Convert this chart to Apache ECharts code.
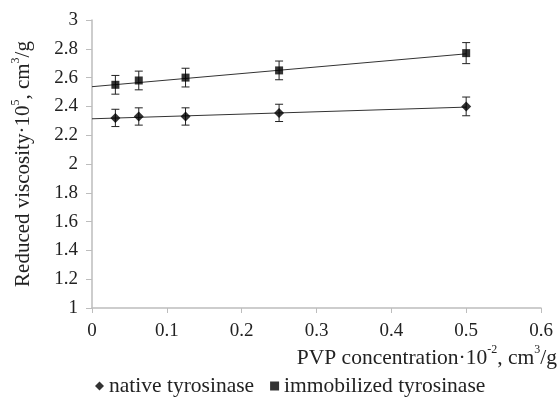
<!DOCTYPE html>
<html>
<head>
<meta charset="utf-8">
<script src="https://cdn.jsdelivr.net/npm/echarts@6/dist/echarts.min.js"></script>
<style>
    html, body { margin: 0; padding: 0; background: #fff; }
    #chart { width: 557px; height: 399px; }
</style>
</head>
<body>
<div id="chart"></div>
<script>
// PVP concentration (x) values
var concentrations = [0.03125, 0.0625, 0.125, 0.25, 0.5];
// reduced viscosity values
var nativeValues = [2.32, 2.33, 2.33, 2.355, 2.40];
var immobValues = [2.55, 2.58, 2.60, 2.65, 2.77];
// error bar half heights
var nativeErr = [0.06, 0.06, 0.06, 0.06, 0.065];
var immobErr = [0.065, 0.065, 0.065, 0.065, 0.073];
// trend lines, end points
var nativeTrend = [[0, 2.314], [0.5, 2.395]];
var immobTrend = [[0, 2.537], [0.5, 2.765]];
var seriesNames = ['native tyrosinase', 'immobilized tyrosinase'];

var font = '"Liberation Serif", "Times New Roman", serif';

var pairs = function(xs, ys) {
    var out = [];
    for (var i = 0; i < xs.length; i++) out.push([xs[i], ys[i]]);
    return out;
};

var errData = function(xs, ys, es) {
    var out = [];
    for (var i = 0; i < xs.length; i++) out.push([xs[i], ys[i] - es[i], ys[i] + es[i]]);
    return out;
};

// 误差线
var renderErr = function(params, api) {
    var lo = api.coord([api.value(0), api.value(1)]);
    var hi = api.coord([api.value(0), api.value(2)]);
    var w = 4;
    var st = { stroke: '#222', lineWidth: 1 };
    return {
        type: 'group',
        children: [
            { type: 'line', shape: { x1: lo[0], y1: lo[1], x2: hi[0], y2: hi[1] }, style: st },
            { type: 'line', shape: { x1: lo[0] - w, y1: lo[1], x2: lo[0] + w, y2: lo[1] }, style: st },
            { type: 'line', shape: { x1: hi[0] - w, y1: hi[1], x2: hi[0] + w, y2: hi[1] }, style: st }
        ]
    };
};

var tickFmt = function(v) { return String(Math.round(v * 10) / 10); };

var chart = echarts.init(document.getElementById('chart'));
chart.setOption({
    animation: false,
    textStyle: { fontFamily: font },
    grid: { left: 92, right: 16, top: 20, bottom: 91 },
    legend: {
        top: 375,
        left: 95,
        padding: 0,
        itemGap: 16,
        itemWidth: 9,
        itemHeight: 9,
        textStyle: { fontFamily: font, fontSize: 21.5, color: '#222' },
        data: [
            { name: seriesNames[0], icon: 'diamond' },
            { name: seriesNames[1], icon: 'rect' }
        ]
    },
    xAxis: {
        type: 'value',
        min: 0,
        max: 0.6,
        interval: 0.1,
        splitLine: { show: false },
        axisLine: { lineStyle: { color: '#bdbdbd', width: 1.5 } },
        axisTick: { show: true, length: 5, lineStyle: { color: '#bdbdbd' } },
        axisLabel: { color: '#222', fontFamily: font, fontSize: 19, margin: 14, formatter: tickFmt }
    },
    yAxis: {
        type: 'value',
        min: 1,
        max: 3,
        interval: 0.2,
        splitLine: { show: false },
        axisLine: { show: true, lineStyle: { color: '#bdbdbd', width: 1.5 } },
        axisTick: { show: true, length: 6, lineStyle: { color: '#bdbdbd' } },
        axisLabel: { color: '#222', fontFamily: font, fontSize: 19, margin: 14, formatter: tickFmt },
        name: '{t|Reduced viscosity·10}{s|5}{t|, cm}{s|3}{t|/g}',
        nameLocation: 'middle',
        nameGap: 58,
        nameRotate: 90,
        nameTextStyle: {
            rich: {
                t: { fontFamily: font, fontSize: 21, color: '#222', lineHeight: 24, verticalAlign: 'bottom' },
                s: { fontFamily: font, fontSize: 12, color: '#222', lineHeight: 20, verticalAlign: 'top' }
            }
        }
    },
    graphic: [{
        type: 'text',
        right: 0,
        top: 344,
        style: {
            text: '{t|PVP concentration·10}{s|-2}{t|, cm}{s|3}{t|/g}',
            rich: {
                t: { fontFamily: font, fontSize: 21.5, fill: '#222', lineHeight: 25, verticalAlign: 'bottom' },
                s: { fontFamily: font, fontSize: 12, fill: '#222', lineHeight: 21, verticalAlign: 'top' }
            }
        }
    }],
    series: [
        {
            name: 'nativeTrend', type: 'line', data: nativeTrend, symbol: 'none',
            lineStyle: { color: '#333', width: 1 }, silent: true, z: 1
        },
        {
            name: 'immobTrend', type: 'line', data: immobTrend, symbol: 'none',
            lineStyle: { color: '#333', width: 1 }, silent: true, z: 1
        },
        {
            name: 'nativeErr', type: 'custom', renderItem: renderErr,
            data: errData(concentrations, nativeValues, nativeErr), z: 2
        },
        {
            name: 'immobErr', type: 'custom', renderItem: renderErr,
            data: errData(concentrations, immobValues, immobErr), z: 2
        },
        {
            name: seriesNames[0], type: 'scatter', symbol: 'diamond', symbolSize: 10,
            itemStyle: { color: '#000' }, data: pairs(concentrations, nativeValues), z: 3
        },
        {
            name: seriesNames[1], type: 'scatter', symbol: 'rect', symbolSize: 8,
            itemStyle: { color: '#000' }, data: pairs(concentrations, immobValues), z: 3
        }
    ]
});
</script>
</body>
</html>
